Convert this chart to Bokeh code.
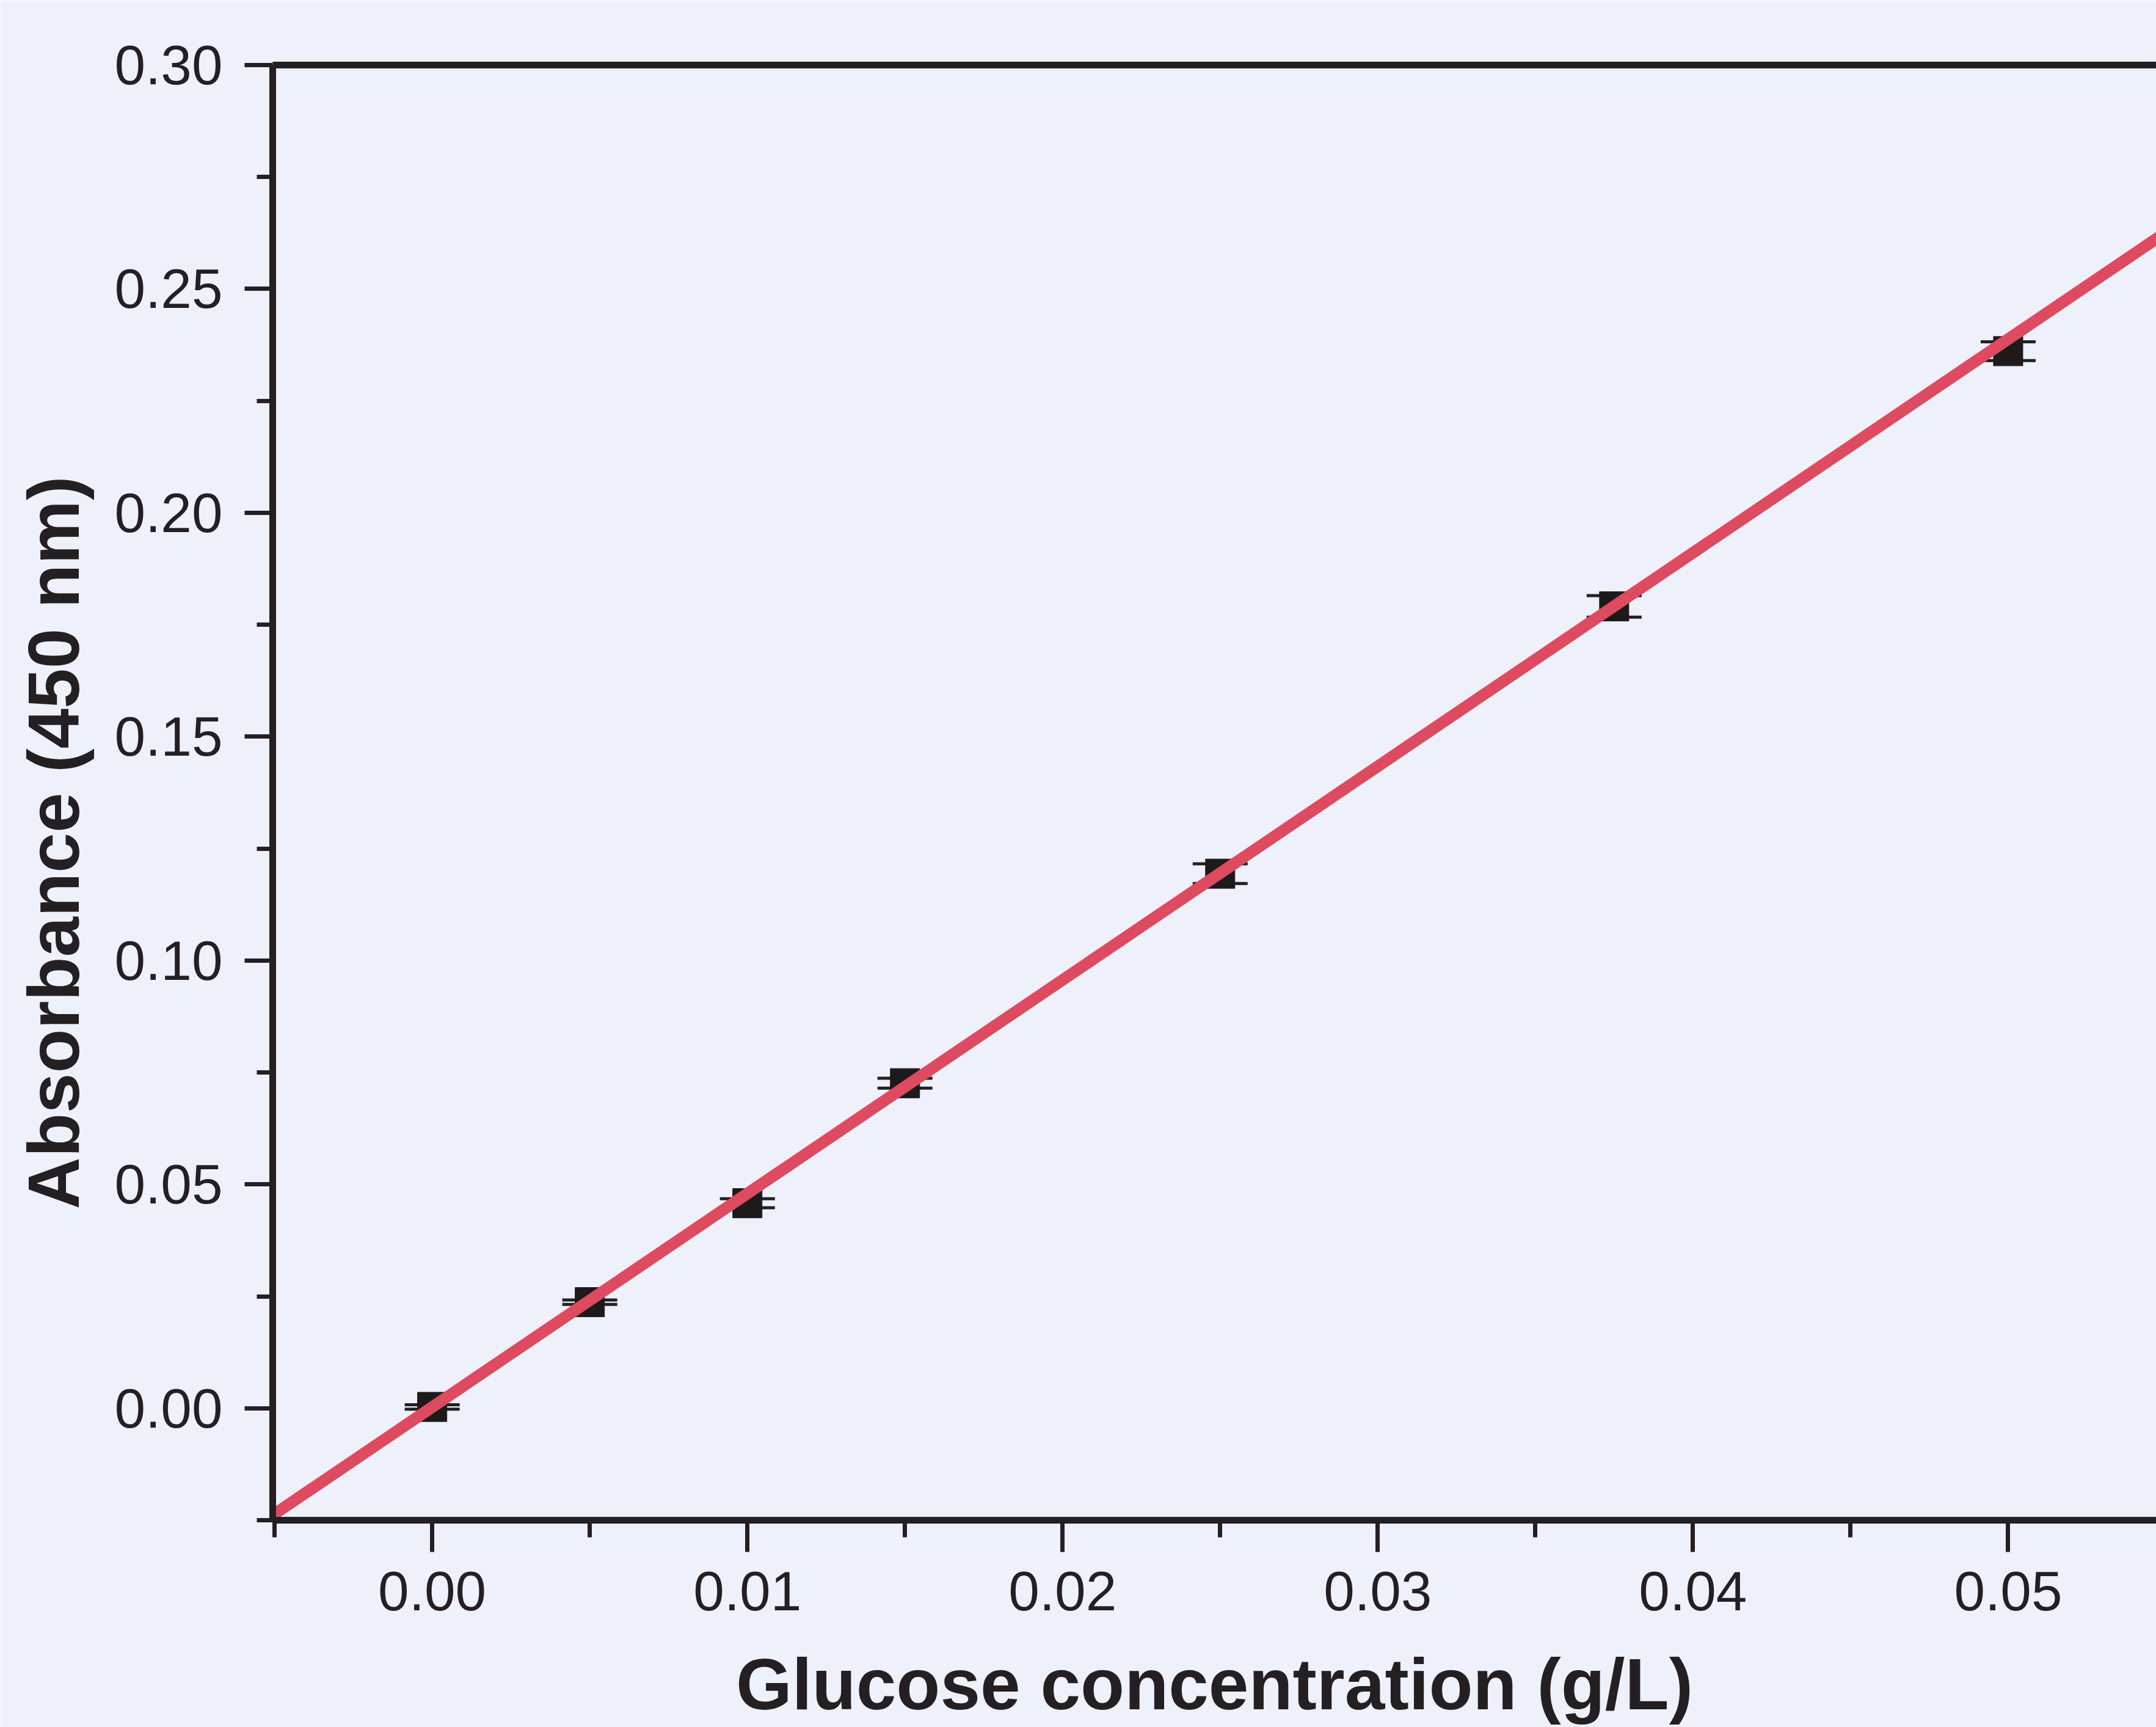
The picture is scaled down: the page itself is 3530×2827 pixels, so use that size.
from bokeh.plotting import figure
from bokeh.models import (Range1d, FixedTicker, PrintfTickFormatter, LinearAxis, Whisker,
                          ColumnDataSource, TeeHead)
from bokeh.embed import file_html
from bokeh.resources import INLINE

# data
conc = [0.0, 0.005, 0.01, 0.015, 0.025, 0.0375, 0.05]
absorbance = [0.0003, 0.0237, 0.0458, 0.0726, 0.1194, 0.1791, 0.2361]
abs_err = [0.0005, 0.0005, 0.0010, 0.0011, 0.0022, 0.0024, 0.0021]
fit_x = [-0.005, 0.056]
fit_y = [-0.0236, 0.2674]
x_major = [0.0, 0.01, 0.02, 0.03, 0.04, 0.05]
x_minor = [-0.005, 0.005, 0.015, 0.025, 0.035, 0.045, 0.055]
y_major = [0.0, 0.05, 0.10, 0.15, 0.20, 0.25, 0.30]
y_minor = [-0.025, 0.025, 0.075, 0.125, 0.175, 0.225, 0.275]
x_title = "Glucose concentration (g/L)"
y_title = "Absorbance (450 nm)"

BG = "#EEF0FA"
INK = "#241F22"
RED = "#DE4A5F"
FONT = "Liberation Sans"
NBSP = "\u00a0"

p = figure(width=3530, height=2827, output_backend="svg", toolbar_location=None,
           x_range=Range1d(-0.00506, 0.0547), y_range=Range1d(-0.025, 0.30),
           x_axis_type=None, y_axis_type=None,
           min_border_left=446, min_border_right=0, min_border_top=106, min_border_bottom=339)
p.background_fill_color = BG
p.border_fill_color = BG
p.outline_line_color = None
p.xgrid.visible = False
p.ygrid.visible = False

def style_axis(ax, major_out, minor_out, standoff):
    ax.axis_line_color = INK
    ax.axis_line_width = 11
    ax.major_tick_line_color = INK
    ax.major_tick_line_width = 7
    ax.minor_tick_line_color = INK
    ax.minor_tick_line_width = 7
    ax.major_tick_in = 0
    ax.minor_tick_in = 0
    ax.major_tick_out = major_out
    ax.minor_tick_out = minor_out
    ax.major_label_text_font = FONT
    ax.major_label_text_font_size = "91px"
    ax.major_label_text_color = INK
    ax.major_label_standoff = standoff
    ax.axis_label_text_font = FONT
    ax.axis_label_text_font_size = "118px"
    ax.axis_label_text_font_style = "bold"
    ax.axis_label_text_color = INK
    ax.formatter = PrintfTickFormatter(format="%.2f")

xa = LinearAxis(axis_label=x_title, ticker=FixedTicker(ticks=x_major, minor_ticks=x_minor))
style_axis(xa, 52, 28, 32)
xa.axis_label_standoff = 52
p.add_layout(xa, "below")

# trailing no-break spaces shift the rotated title toward the bottom, as in the reference
ya = LinearAxis(axis_label=y_title + NBSP * 5, ticker=FixedTicker(ticks=y_major, minor_ticks=y_minor))
style_axis(ya, 46, 26, 36)
ya.axis_label_standoff = 30
p.add_layout(ya, "left")

top = LinearAxis(ticker=FixedTicker(ticks=[]))
top.axis_line_color = INK
top.axis_line_width = 11
top.major_tick_out = 0
top.minor_tick_out = 0
top.major_label_text_font_size = "1px"
top.major_label_standoff = 0
p.add_layout(top, "above")

src = ColumnDataSource(dict(x=conc, y=absorbance,
                            lo=[a - e for a, e in zip(absorbance, abs_err)],
                            hi=[a + e for a, e in zip(absorbance, abs_err)]))

p.scatter("x", "y", source=src, marker="square", size=48, fill_color="#1E1A1C", line_color="#1E1A1C")
p.line(fit_x, fit_y, line_color=RED, line_width=19)
w = Whisker(base="x", lower="lo", upper="hi", source=src, dimension="height",
            line_color=INK, line_width=5,
            upper_head=TeeHead(size=90, line_color=INK, line_width=5),
            lower_head=TeeHead(size=90, line_color=INK, line_width=5))
p.add_layout(w)

open("out.html", "w").write(file_html(p, INLINE))
